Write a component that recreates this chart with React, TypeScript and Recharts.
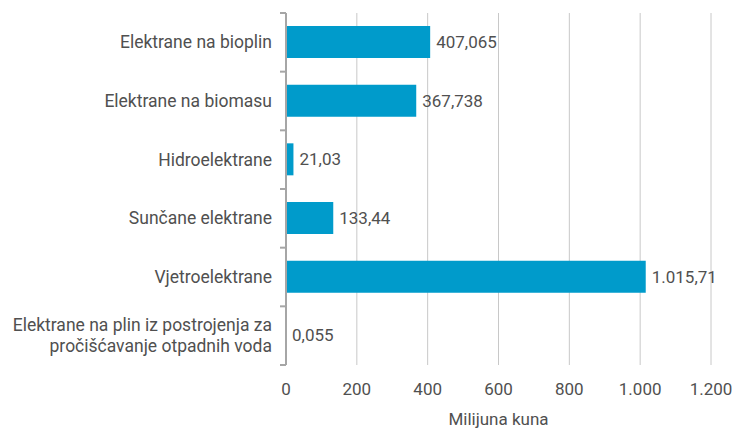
import { BarChart, Bar, XAxis, YAxis, CartesianGrid, LabelList } from 'recharts'

const categories = [
  'Elektrane na bioplin',
  'Elektrane na biomasu',
  'Hidroelektrane',
  'Sunčane elektrane',
  'Vjetroelektrane',
  'Elektrane na plin iz postrojenja za pročišćavanje otpadnih voda',
]
const values = [407.065, 367.738, 21.03, 133.44, 1015.71, 0.055]
const valueLabels = ['407,065', '367,738', '21,03', '133,44', '1.015,71', '0,055']
const xTicks = [0, 200, 400, 600, 800, 1000, 1200]

const data = categories.map((name, i) => ({ name, value: values[i], label: valueLabels[i] }))

const W = 741
const H = 430
const margin = { top: 13, right: 30, left: 0, bottom: 0 }
const xAxisHeight = 65
const band = (H - margin.top - margin.bottom - xAxisHeight) / categories.length

const textColor = '#505050'
const axisColor = '#A6A6A6'
const font = 'Roboto, sans-serif'

const fmt = (v: number) => v.toLocaleString('de-DE')

function wrap(text: string, max: number) {
  const words = text.split(' ')
  const lines: string[] = []
  let cur = ''
  for (const w of words) {
    const next = cur ? cur + ' ' + w : w
    if (next.length > max && cur) {
      lines.push(cur)
      cur = w
    } else {
      cur = next
    }
  }
  if (cur) lines.push(cur)
  return lines
}

const CategoryTick = (props: any) => {
  const { x, y, payload, index } = props
  const lines = wrap(payload.value, 36)
  const lh = 21
  const start = -((lines.length - 1) * lh) / 2
  return (
    <g>
      <line x1={x - 6} x2={x} y1={y - band / 2} y2={y - band / 2} stroke={axisColor} strokeWidth={2} />
      {index === categories.length - 1 && (
        <line x1={x - 6} x2={x} y1={y + band / 2} y2={y + band / 2} stroke={axisColor} strokeWidth={2} />
      )}
      <text x={x - 14} y={y} textAnchor="end" fill={textColor} fontSize={17.5} fontFamily={font}>
        {lines.map((l, i) => (
          <tspan key={i} x={x - 14} dy={i === 0 ? start + 6 : lh}>
            {l}
          </tspan>
        ))}
      </text>
    </g>
  )
}

export default function App() {
  return (
    <div style={{ position: 'absolute', left: 0, top: 0, width: W, height: H, background: '#fff' }}>
      <BarChart width={W} height={H} data={data} layout="vertical" margin={margin} barSize={32}>
        <CartesianGrid horizontal={false} stroke="#C8C8C8" />
        <XAxis
          type="number"
          domain={[0, 1200]}
          ticks={xTicks}
          tickFormatter={fmt}
          axisLine={false}
          tickLine={false}
          height={xAxisHeight}
          tickMargin={12}
          tick={{ fill: textColor, fontSize: 17, fontFamily: font }}
          label={{ value: 'Milijuna kuna', position: 'insideBottom', offset: 5, fill: textColor, fontSize: 17, fontFamily: font }}
        />
        <YAxis
          type="category"
          dataKey="name"
          width={286}
          axisLine={{ stroke: axisColor, strokeWidth: 2 }}
          tickLine={false}
          tickSize={0}
          tickMargin={0}
          tick={<CategoryTick />}
          interval={0}
        />
        <Bar dataKey="value" fill="#009BCB" isAnimationActive={false}>
          <LabelList dataKey="label" position="right" offset={6} fill={textColor} fontSize={17} fontFamily={font} />
        </Bar>
      </BarChart>
    </div>
  )
}
